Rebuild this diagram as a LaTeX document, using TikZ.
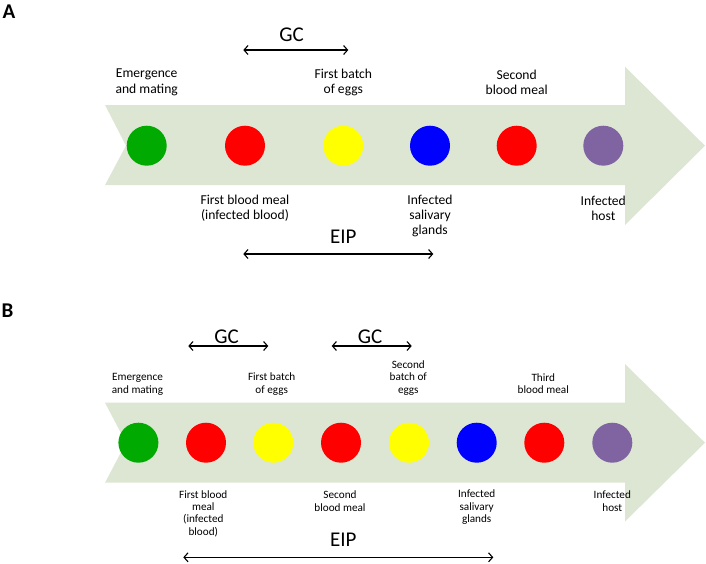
\documentclass[tikz,border=0pt]{standalone}
\usepackage{fontspec}
\setmainfont{Carlito}
\usetikzlibrary{arrows.meta}
\definecolor{bandfill}{RGB}{221,230,211}
\definecolor{cgreen}{RGB}{0,170,0}
\definecolor{cred}{RGB}{255,0,0}
\definecolor{cyellow}{RGB}{255,255,0}
\definecolor{cblue}{RGB}{0,0,255}
\definecolor{cpurple}{RGB}{128,100,162}
\tikzset{
  dot/.style={circle, minimum size=40pt, inner sep=0pt, draw=none},
  lblA/.style={inner sep=0pt, align=center, font=\fontsize{13.6}{15.4}\selectfont},
  lblB/.style={inner sep=0pt, align=center, font=\fontsize{11.2}{12.4}\selectfont},
  period/.style={inner sep=0pt, font=\fontsize{21}{23}\selectfont},
  panel/.style={inner sep=0pt, font=\fontsize{21}{23}\selectfont\bfseries},
  span/.style={line width=1.1pt, {Straight Barb[length=4pt,width=9pt]}-{Straight Barb[length=4pt,width=9pt]}},
  band/.style={fill=bandfill, draw=none}
}
\begin{document}
\begin{tikzpicture}[x=1pt,y=-1pt]
\useasboundingbox (0,0) rectangle (706,563);
% ---------- Panel A ----------
\node[panel] (pA) at (9,12) {A};
\fill[band] (105,105) -- (625,105) -- (625,66.7) -- (705,145.7) -- (625,225) -- (625,185) -- (105,185) -- (126,145.7) -- cycle;
\node[dot, fill=cgreen]  (a1) at (146.7,145.7) {};
\node[dot, fill=cred]    (a2) at (245,145.7) {};
\node[dot, fill=cyellow] (a3) at (343.3,145.7) {};
\node[dot, fill=cblue]   (a4) at (430,145.7) {};
\node[dot, fill=cred]    (a5) at (516.7,145.7) {};
\node[dot, fill=cpurple] (a6) at (603.3,145.7) {};
\node[lblA] (aem) at (146.7,82.5) {Emergence\\and mating};
\node[lblA] (afb) at (343.3,82.5) {First batch\\of eggs};
\node[lblA] (asb) at (516.7,82.5) {Second\\blood meal};
\node[lblA] (afbm) at (245,208.3) {First blood meal\\(infected blood)};
\node[lblA] (aisg) at (430,216) {Infected\\salivary\\glands};
\node[lblA] (aih) at (603.3,208.3) {Infected\\host};
\node[period] (agc) at (291.7,35) {GC};
\coordinate (agcL) at (243.3,50);
\coordinate (agcR) at (348.3,50);
\draw[span] (agcL) -- (agcR);
\node[period] (aeip) at (343.3,236.7) {EIP};
\coordinate (aeipL) at (243.3,254);
\coordinate (aeipR) at (433.3,254);
\draw[span] (aeipL) -- (aeipR);
% ---------- Panel B ----------
\node[panel] (pB) at (7.5,311) {B};
\fill[band] (105,402.7) -- (625,402.7) -- (625,364) -- (705,442.7) -- (625,521.5) -- (625,482.7) -- (105,482.7) -- (126,442.7) -- cycle;
\node[dot, fill=cgreen]  (b1) at (138.4,442.7) {};
\node[dot, fill=cred]    (b2) at (206,442.7) {};
\node[dot, fill=cyellow] (b3) at (273.3,442.7) {};
\node[dot, fill=cred]    (b4) at (341,442.7) {};
\node[dot, fill=cyellow] (b5) at (409,442.7) {};
\node[dot, fill=cblue]   (b6) at (476.7,442.7) {};
\node[dot, fill=cred]    (b7) at (544.3,442.7) {};
\node[dot, fill=cpurple] (b8) at (612.3,442.7) {};
\node[lblB] (bem) at (137.5,384.2) {Emergence\\and mating};
\node[lblB] (bfb) at (271.7,384.2) {First batch\\of eggs};
\node[lblB] (bsbe) at (408.3,377.8) {Second\\batch of\\eggs};
\node[lblB] (btbm) at (543.3,383.8) {Third\\blood meal};
\node[lblB] (bfbm) at (203.3,513.5) {First blood\\meal\\(infected\\blood)};
\node[lblB] (bsbm) at (340,501.2) {Second\\blood meal};
\node[lblB] (bisg) at (476.7,507.3) {Infected\\salivary\\glands};
\node[lblB] (bih) at (612.3,501.2) {Infected\\host};
\node[period] (bgc1) at (226.7,336.7) {GC};
\coordinate (bgc1L) at (188.3,346);
\coordinate (bgc1R) at (268.3,346);
\draw[span] (bgc1L) -- (bgc1R);
\node[period] (bgc2) at (370,336.7) {GC};
\coordinate (bgc2L) at (331.7,346);
\coordinate (bgc2R) at (411.7,346);
\draw[span] (bgc2L) -- (bgc2R);
\node[period] (beip) at (343.3,540) {EIP};
\coordinate (beipL) at (183.3,557.3);
\coordinate (beipR) at (493.3,557.3);
\draw[span] (beipL) -- (beipR);
\end{tikzpicture}
\end{document}
